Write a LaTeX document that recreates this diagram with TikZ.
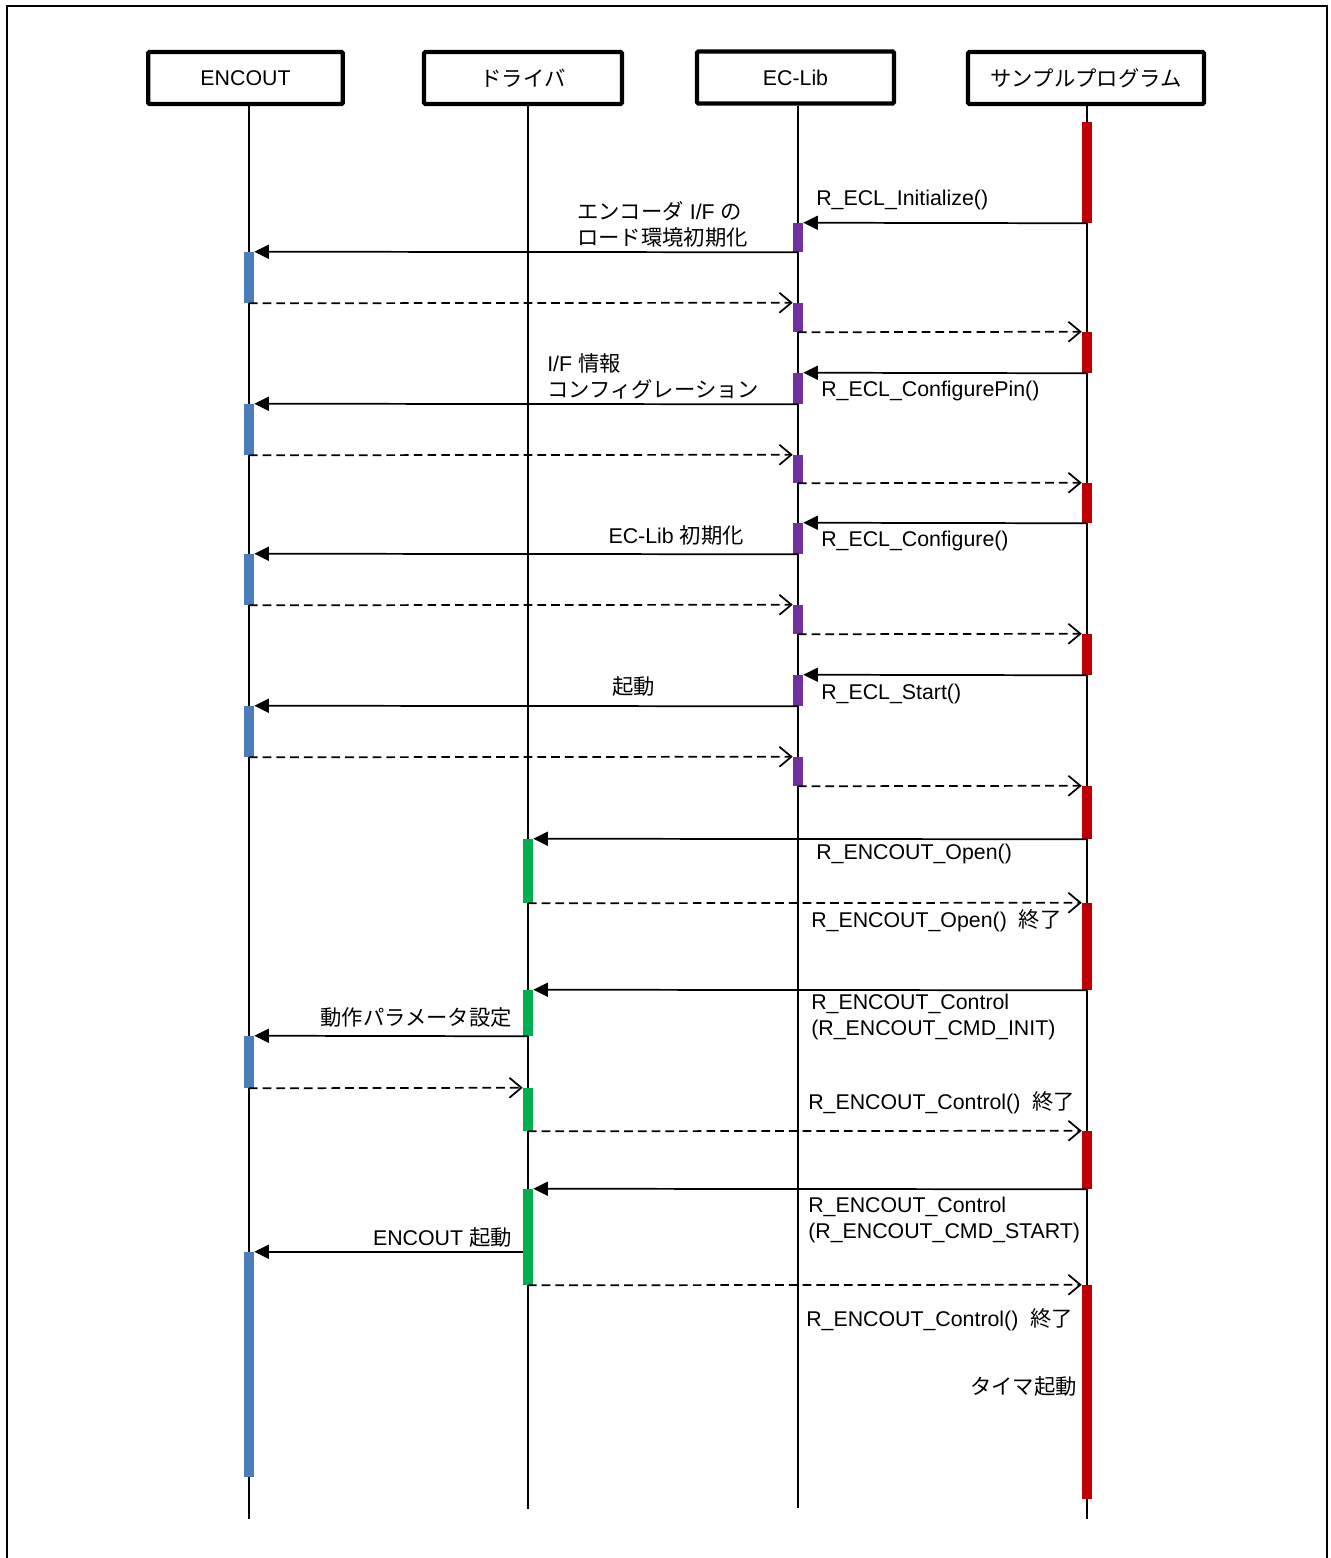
\documentclass[tikz,border=0pt]{standalone}
\usepackage{fontspec}
\setmainfont{Liberation Sans}
\newfontfamily\cjk{Noto Sans CJK JP}
\usetikzlibrary{arrows.meta,fit}
\definecolor{barblue}{HTML}{4A7EBB}
\definecolor{barpurple}{HTML}{7030A0}
\definecolor{barred}{HTML}{C00000}
\definecolor{bargreen}{HTML}{00B050}
\newcommand\actbar[5]{\node[actb, fill=#5, fit={(#2-5,#3) (#2+5,#4)}] (#1) {};}
\begin{document}
\begin{tikzpicture}[x=0.75pt,y=-0.75pt,
  hdr/.style={draw, line width=3.2pt, rounded corners=1pt, minimum height=39pt, inner sep=0pt,
    font=\fontsize{16pt}{19.5pt}\selectfont},
  life/.style={line width=1.2pt},
  actb/.style={draw=none, inner sep=0pt, rectangle},
  call/.style={line width=1.3pt, -{Triangle[length=11pt,width=10.5pt]}},
  ret/.style={line width=1.3pt, dash pattern=on 6.5pt off 3.8pt, -{Straight Barb[length=9pt,width=15pt]}},
  lbl/.style={inner sep=0pt, align=left, font=\fontsize{16pt}{19.5pt}\selectfont}]
\useasboundingbox (0,0) rectangle (1330,1558);
% frame
\draw[line width=1.5pt] (7,1560) -- (7,6) -- (1327,6) -- (1327,1560);
% headers
\node[hdr, minimum width=146pt] (hE) at (245.5,78) {ENCOUT};
\node[hdr, minimum width=148.5pt] (hD) at (523,78) {\cjk ドライバ};
\node[hdr, minimum width=147.75pt] (hL) at (795.5,77.5) {EC-Lib};
\node[hdr, minimum width=177pt] (hS) at (1086,78) {\cjk サンプルプログラム};
% lifelines
\coordinate (eE) at (249,1519);
\coordinate (eD) at (528,1509);
\coordinate (eL) at (798,1508);
\coordinate (eS) at (1087,1519);
\draw[life] (hE.south -| eE) -- (eE);
\draw[life] (hD.south -| eD) -- (eD);
\draw[life] (hL.south -| eL) -- (eL);
\draw[life] (hS.south -| eS) -- (eS);
% activation bars
\actbar{s1}{1087}{122}{223}{barred}
\actbar{p1}{798}{223}{252}{barpurple}
\actbar{b1}{249}{252}{303}{barblue}
\actbar{p2}{798}{303}{332}{barpurple}
\actbar{s2}{1087}{332}{373}{barred}
\actbar{p3}{798}{373}{404}{barpurple}
\actbar{b2}{249}{404}{455}{barblue}
\actbar{p4}{798}{455}{483}{barpurple}
\actbar{s3}{1087}{483}{523}{barred}
\actbar{p5}{798}{523}{554}{barpurple}
\actbar{b3}{249}{554}{605}{barblue}
\actbar{p6}{798}{605}{634}{barpurple}
\actbar{s4}{1087}{634}{675}{barred}
\actbar{p7}{798}{675}{706}{barpurple}
\actbar{b4}{249}{706}{757}{barblue}
\actbar{p8}{798}{757}{786}{barpurple}
\actbar{s5}{1087}{786}{839}{barred}
\actbar{g1}{528}{839}{903}{bargreen}
\actbar{s6}{1087}{903}{990}{barred}
\actbar{g2}{528}{990}{1036}{bargreen}
\actbar{b5}{249}{1036}{1088}{barblue}
\actbar{g3}{528}{1088}{1131}{bargreen}
\actbar{s7}{1087}{1131}{1189}{barred}
\actbar{g4}{528}{1189}{1285}{bargreen}
\actbar{b6}{249}{1252}{1477}{barblue}
\actbar{s8}{1087}{1285}{1499}{barred}
% messages
\draw[call] (s1.south) -- (p1.north east);
\draw[call] (p1.south) -- (b1.north east);
\draw[ret] (b1.south) -- (p2.north west);
\draw[ret] (p2.south) -- (s2.north west);
\draw[call] (s2.south) -- (p3.north east);
\draw[call] (p3.south) -- (b2.north east);
\draw[ret] (b2.south) -- (p4.north west);
\draw[ret] (p4.south) -- (s3.north west);
\draw[call] (s3.south) -- (p5.north east);
\draw[call] (p5.south) -- (b3.north east);
\draw[ret] (b3.south) -- (p6.north west);
\draw[ret] (p6.south) -- (s4.north west);
\draw[call] (s4.south) -- (p7.north east);
\draw[call] (p7.south) -- (b4.north east);
\draw[ret] (b4.south) -- (p8.north west);
\draw[ret] (p8.south) -- (s5.north west);
\draw[call] (s5.south) -- (g1.north east);
\draw[ret] (g1.south) -- (s6.north west);
\draw[call] (s6.south) -- (g2.north east);
\draw[call] (g2.south) -- (b5.north east);
\draw[ret] (b5.south) -- (g3.north west);
\draw[ret] (g3.south) -- (s7.north west);
\draw[call] (s7.south) -- (g4.north east);
\draw[call] (b6.north east -| g4.west) -- (b6.north east);
\draw[ret] (g4.south) -- (s8.north west);
% labels
\node[lbl, anchor=west] (t1) at (816,200) {R\_ECL\_Initialize()};
\node[lbl, anchor=west] (t2) at (577,224) {{\cjk エンコーダ} I/F {\cjk の}\\{\cjk ロード環境初期化}};
\node[lbl, anchor=west] (t3) at (547,376) {I/F {\cjk 情報}\\{\cjk コンフィグレーション}};
\node[lbl, anchor=west] (t4) at (821,391) {R\_ECL\_ConfigurePin()};
\node[lbl, anchor=west] (t5) at (821,541) {R\_ECL\_Configure()};
\node[lbl, anchor=east] (t6) at (744,535) {EC-Lib {\cjk 初期化}};
\node[lbl, anchor=west] (t7) at (821,694) {R\_ECL\_Start()};
\node[lbl, anchor=west] (t8) at (612,686) {\cjk 起動};
\node[lbl, anchor=west] (t9) at (816,854) {R\_ENCOUT\_Open()};
\node[lbl, anchor=west] (t10) at (811,921) {R\_ENCOUT\_Open()\ \ {\cjk 終了}};
\node[lbl, anchor=west] (t11) at (811,1017) {R\_ENCOUT\_Control\\(R\_ENCOUT\_CMD\_INIT)};
\node[lbl, anchor=east] (t12) at (512,1017) {\cjk 動作パラメータ設定};
\node[lbl, anchor=west] (t13) at (808,1103) {R\_ENCOUT\_Control()\ \ {\cjk 終了}};
\node[lbl, anchor=west] (t14) at (808,1220) {R\_ENCOUT\_Control\\(R\_ENCOUT\_CMD\_START)};
\node[lbl, anchor=east] (t15) at (512,1237) {ENCOUT {\cjk 起動}};
\node[lbl, anchor=west] (t16) at (806,1320) {R\_ENCOUT\_Control()\ \ {\cjk 終了}};
\node[lbl, anchor=east] (t17) at (1077,1386) {\cjk タイマ起動};
\end{tikzpicture}
\end{document}
